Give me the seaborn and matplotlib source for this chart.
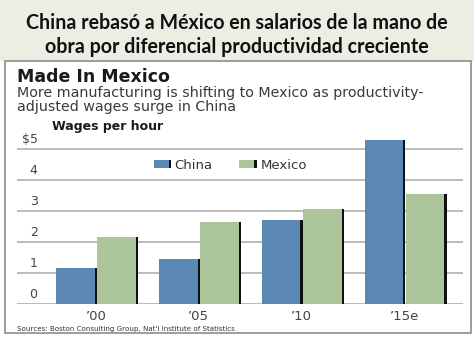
import pandas as pd
import matplotlib
matplotlib.use("Agg")
import matplotlib.pyplot as plt
import matplotlib.patheffects as pe
from matplotlib.patches import Rectangle
import seaborn as sns

# -- data --
years = ["’00", "’05", "’10", "’15e"]
china = [1.15, 1.45, 2.7, 5.3]
mexico = [2.15, 2.65, 3.05, 3.55]
y_ticks = [0, 1, 2, 3, 4, 5]
y_labels = ["0", "1", "2", "3", "4", "$5"]

title = "China rebasó a México en salarios de la mano de\nobra por diferencial productividad creciente"
subtitle = ["More manufacturing is shifting to Mexico as productivity-",
            "adjusted wages surge in China"]
source = "Sources: Boston Consulting Group, Nat'l Institute of Statistics"

df = pd.DataFrame({
    "year": years * 2,
    "country": ["China"] * len(years) + ["Mexico"] * len(years),
    "wage": china + mexico,
})

sns.set_style("white")
W, H = 474, 355
fig = plt.figure(figsize=(W / 100, H / 100), dpi=100)
fig.patch.set_facecolor("white")

# banner and framed box (behind the axes)
fig.patches.append(Rectangle((0, 1 - 61 / H), 1, 61 / H, transform=fig.transFigure,
                             facecolor="#eeede4", edgecolor="none", zorder=-2))
fig.patches.append(Rectangle((5 / W, 1 - 333 / H), 466 / W, 272 / H, transform=fig.transFigure,
                             facecolor="white", edgecolor="#8c8c8c", lw=1.2, zorder=-1))

ax = fig.add_axes([17 / W, 51 / H, 446 / W, 169 / H])
ax.set_facecolor("none")

# dark edge on the right of every bar
shadow = [pe.SimplePatchShadow(offset=(1.6, 0), shadow_rgbFace="#111111", alpha=1), pe.Normal()]
sns.barplot(data=df, x="year", y="wage", hue="country",
            palette={"China": "#5b87b3", "Mexico": "#adc59b"},
            width=0.8, saturation=1, gap=0.06, linewidth=0, ax=ax)
for p in ax.patches:
    p.set_path_effects(shadow)

ax.set_xlim(-0.77, 3.57)
ax.set_ylim(0, 5.45)
ax.set_yticks(y_ticks)
ax.set_yticklabels([])
ax.yaxis.grid(True, color="#b5b5b5", lw=1.3)
ax.set_axisbelow(True)
ax.tick_params(axis="both", length=0)
ax.tick_params(axis="x", pad=4, labelsize=9.5, labelcolor="#444444")
ax.set_xlabel("")
ax.set_ylabel("")
for s in ax.spines.values():
    s.set_visible(False)

for v, lab in zip(y_ticks, y_labels):
    ax.text(0.046, v + 0.09, lab, transform=ax.get_yaxis_transform(),
            ha="right", va="bottom", fontsize=9, color="#444444")

handles, labels = ax.get_legend_handles_labels()
leg = ax.legend(handles, labels, loc="center", bbox_to_anchor=(0.478, 0.822), ncol=2,
                frameon=False, fontsize=9.5, handlelength=1.15, handleheight=0.6,
                handletextpad=0.45, columnspacing=2.0, labelcolor="#333333")
for p in leg.get_patches():
    p.set_linewidth(0)
    p.set_path_effects(shadow)

# titles
fig.text(0.5, 1 - 35 / H, title, ha="center", va="center", fontsize=14.1,
         fontweight="bold", family="Lato", linespacing=1.25, color="#111111")
fig.text(17 / W, 1 - 82 / H, "Made In Mexico", ha="left", va="baseline",
         fontsize=12.5, fontweight="bold", color="#1a1a1a")
for i, line in enumerate(subtitle):
    fig.text(17 / W, 1 - (97 + 14 * i) / H, line, ha="left", va="baseline",
             fontsize=10.3, color="#3a3a3a")
fig.text(52 / W, 1 - 130 / H, "Wages per hour", ha="left", va="baseline",
         fontsize=9, fontweight="bold", color="#1a1a1a")
fig.text(17 / W, 1 - 331 / H, source, ha="left", va="baseline", fontsize=5.1,
         family=["Liberation Sans Narrow", "DejaVu Sans"], color="#333333")

fig.savefig("out.png", dpi=100)
